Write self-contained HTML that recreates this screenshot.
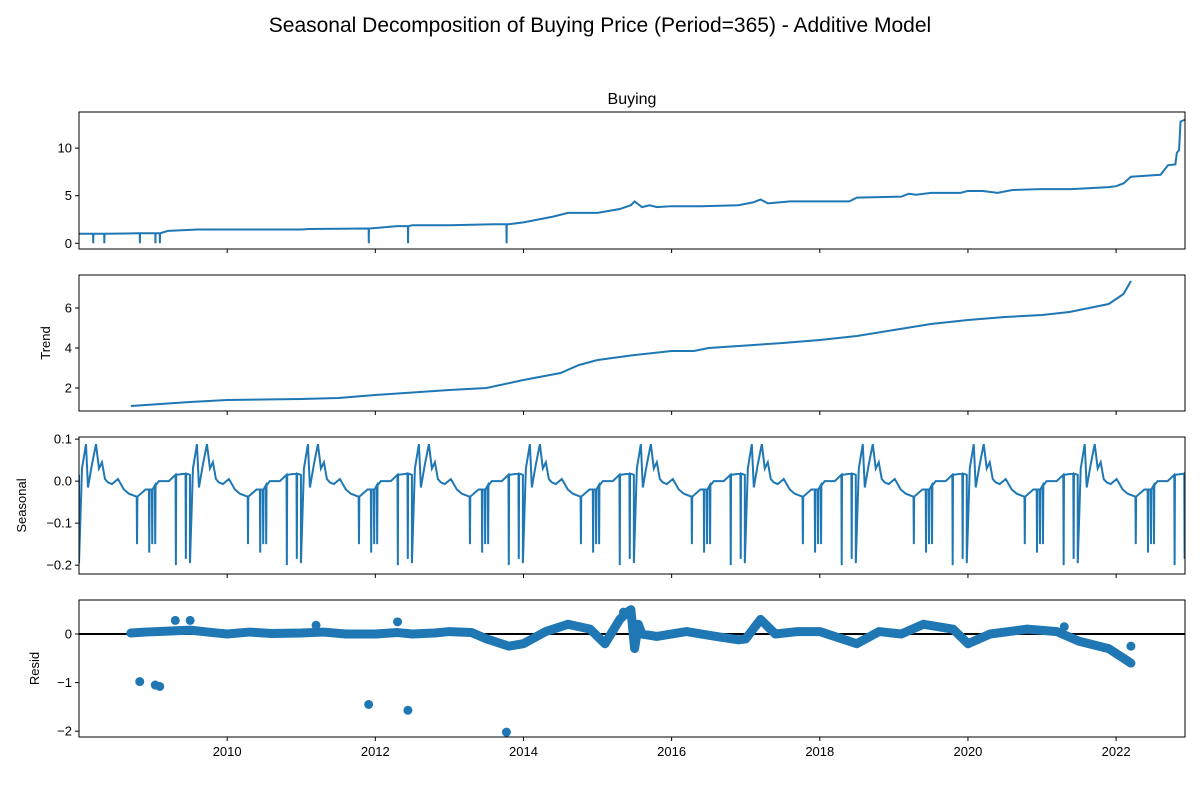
<!DOCTYPE html>
<html><head><meta charset="utf-8"><style>
body{margin:0;background:#fff;}
svg text{font-family:"Liberation Sans","DejaVu Sans",sans-serif;fill:#000;}
</style></head><body>
<svg id="c" width="1200" height="800" xmlns="http://www.w3.org/2000/svg">
<text x="600" y="32" text-anchor="middle" font-size="21">Seasonal Decomposition of Buying Price (Period=365) - Additive Model</text>
</svg>
<script>
const xTickYears=[2010,2012,2014,2016,2018,2020,2022];
const buyingYears=[2008.0,2008.8,2009.2,2009.6,2011.0,2011.1,2011.9,2012.3,2012.5,2013.0,2013.6,2013.8,2014.0,2014.4,2014.6,2015.0,2015.3,2015.45,2015.5,2015.6,2015.7,2015.8,2016.0,2016.4,2016.9,2017.1,2017.2,2017.3,2017.6,2018.4,2018.5,2019.1,2019.2,2019.3,2019.5,2019.9,2020.0,2020.2,2020.4,2020.6,2021.0,2021.4,2021.9,2022.0,2022.1,2022.2,2022.4,2022.6,2022.7,2022.8,2022.82,2022.85,2022.87,2022.93];
const buyingValues=[1.0,1.05,1.3,1.45,1.45,1.5,1.55,1.8,1.9,1.9,2.0,2.0,2.2,2.8,3.2,3.2,3.6,4.0,4.4,3.8,4.0,3.8,3.9,3.9,4.0,4.3,4.6,4.2,4.4,4.4,4.8,4.9,5.2,5.1,5.3,5.3,5.5,5.5,5.3,5.6,5.7,5.7,5.9,6.0,6.3,7.0,7.1,7.2,8.2,8.3,9.5,9.8,12.8,13.0];
const buyingDropYears=[2008.19,2008.34,2008.82,2009.03,2009.09,2011.91,2012.44,2013.77];
const trendYears=[2008.7,2009.5,2010,2011,2011.5,2012,2013,2013.5,2014,2014.5,2014.75,2015,2015.5,2016,2016.3,2016.5,2017.5,2018,2018.5,2019,2019.5,2020,2020.5,2021,2021.37,2021.9,2022.1,2022.2];
const trendValues=[1.1,1.3,1.4,1.45,1.5,1.65,1.9,2.0,2.4,2.75,3.15,3.4,3.65,3.85,3.85,4.0,4.25,4.4,4.6,4.9,5.2,5.4,5.55,5.65,5.8,6.2,6.7,7.35];
const seasonalPeriodYears=1.498;
const seasonalPhase=[0,0.0,0.027,0.063,0.081,0.117,0.153,0.18,0.207,0.234,0.261,0.297,0.351,0.405,0.45,0.52,0.523,0.526,0.6,0.63,0.633,0.636,0.657,0.66,0.663,0.684,0.687,0.69,0.72,0.81,0.87,0.873,0.876,0.96,0.963,0.966,1.0];
const seasonalValues=[0.015,-0.195,0.03,0.088,-0.015,0.04,0.088,0.03,0.045,0.005,-0.003,-0.007,0.005,-0.02,-0.03,-0.037,-0.15,-0.037,-0.02,-0.02,-0.17,-0.02,-0.02,-0.15,-0.02,-0.01,-0.15,-0.01,0.0,0.0,0.015,-0.2,0.015,0.018,-0.185,0.018,0.015];
const residYears=[2008.7,2008.9,2009.2,2009.5,2009.8,2010,2010.3,2010.6,2011,2011.3,2011.6,2012,2012.3,2012.5,2012.8,2013,2013.3,2013.5,2013.8,2014.0,2014.3,2014.6,2014.9,2015.1,2015.3,2015.4,2015.45,2015.5,2015.55,2015.6,2015.8,2016.2,2016.6,2016.9,2017.0,2017.2,2017.4,2017.7,2018.0,2018.3,2018.5,2018.8,2019.1,2019.4,2019.8,2020.0,2020.3,2020.8,2021.2,2021.5,2021.9,2022.1,2022.2];
const residValues=[0.02,0.04,0.06,0.08,0.03,0.0,0.04,0.01,0.02,0.04,0.0,0.0,0.03,0.0,0.02,0.05,0.03,-0.1,-0.25,-0.2,0.05,0.2,0.1,-0.2,0.3,0.45,0.5,-0.3,0.2,0.0,-0.05,0.05,-0.05,-0.12,-0.1,0.3,0.0,0.05,0.05,-0.1,-0.2,0.05,0.0,0.2,0.1,-0.2,0.0,0.1,0.05,-0.15,-0.3,-0.5,-0.6];
const residOutYears=[2008.82,2009.03,2009.09,2011.91,2012.44,2013.77,2009.3,2009.5,2011.2,2012.3,2015.35,2021.3,2022.2];
const residOutValues=[-0.98,-1.05,-1.08,-1.45,-1.57,-2.02,0.28,0.28,0.18,0.25,0.45,0.15,-0.25];

const NS='http://www.w3.org/2000/svg';
const svg=document.getElementById('c');
const X0=79,X1=1185,Y0=2008.0,Y1=2022.93;
const sx=y=>X0+(y-Y0)/(Y1-Y0)*(X1-X0);
const C='#1f77b4';
function mk(t,a,p){const e=document.createElementNS(NS,t);for(const k in a)e.setAttribute(k,a[k]);(p||svg).appendChild(e);return e;}
const panels=[
 {top:112,bot:249,lo:-0.6,hi:13.8,ticks:[0,5,10],lab:'',lx:0,name:'observed'},
 {top:275,bot:411,lo:0.85,hi:7.65,ticks:[2,4,6],lab:'Trend',lx:50,name:'trend'},
 {top:437,bot:574,lo:-0.221,hi:0.105,ticks:[0.1,0.0,-0.1,-0.2],lab:'Seasonal',lx:26,name:'seasonal'},
 {top:600,bot:737,lo:-2.12,hi:0.7,ticks:[0,-1,-2],lab:'Resid',lx:39,name:'resid'}];
panels.forEach((p,i)=>{
 p.sy=v=>p.bot-(v-p.lo)/(p.hi-p.lo)*(p.bot-p.top);
 const g=mk('g',{});
 
 
 const cp=mk('clipPath',{id:'cp'+i},g);mk('rect',{x:X0,y:p.top,width:X1-X0,height:p.bot-p.top},cp);
 p.g=mk('g',{'clip-path':'url(#cp'+i+')'},g);
 p.ticks.forEach(t=>{const y=p.sy(t);mk('line',{x1:X0-4,x2:X0,y1:y,y2:y,stroke:'#000'},g);
  const tx=mk('text',{x:X0-7,y:y+4.5,'text-anchor':'end','font-size':13},g);tx.textContent=(i==2?t.toFixed(1):String(t)).replace('-','\u2212');
  });
 xTickYears.forEach(t=>{mk('line',{x1:sx(t),x2:sx(t),y1:p.bot,y2:p.bot+4,stroke:'#000'},g);
  if(i==3){const tx=mk('text',{x:sx(t),y:p.bot+19,'text-anchor':'middle','font-size':13},g);tx.textContent=t;
  }});
 if(p.lab){const cy=(p.top+p.bot)/2;const tx=mk('text',{x:0,y:0,transform:`translate(${p.lx},${cy}) rotate(-90)`,'text-anchor':'middle','font-size':13},g);tx.textContent=p.lab;
  }
 p.frame=g;
});
(function(){const p=panels[0];let pts=buyingYears.map((y,i)=>[y,buyingValues[i]]);
 buyingDropYears.forEach(d=>{let k=pts.findIndex(q=>q[0]>d);const v=pts[k-1][1];pts.splice(k,0,[d,v],[d+0.002,0],[d+0.004,v]);});
 const l=mk('polyline',{points:pts.map(q=>sx(q[0])+','+p.sy(q[1])).join(' '),fill:'none',stroke:C,'stroke-width':2},p.g);
 
 const t=mk('text',{x:(X0+X1)/2,y:104,'text-anchor':'middle','font-size':16});t.textContent='Buying';
 })();
(function(){const p=panels[1];const l=mk('polyline',{points:trendYears.map((y,i)=>sx(y)+','+p.sy(trendValues[i])).join(' '),fill:'none',stroke:C,'stroke-width':2},p.g);
 })();
(function(){const p=panels[2];const pts=[];
 for(let c=0;Y0+c*seasonalPeriodYears<Y1;c++){seasonalPhase.forEach((f,i)=>{const y=Y0+(c+f)*seasonalPeriodYears;if(y<=Y1+0.05)pts.push(sx(y)+','+p.sy(seasonalValues[i]));});}
 const l=mk('polyline',{points:pts.join(' '),fill:'none',stroke:C,'stroke-width':2},p.g);
 })();
(function(){const p=panels[3];
 mk('line',{x1:X0,x2:X1,y1:p.sy(0),y2:p.sy(0),stroke:'#000','stroke-width':2},p.g);
 const l=mk('polyline',{points:residYears.map((y,i)=>sx(y)+','+p.sy(residValues[i])).join(' '),fill:'none',stroke:C,'stroke-width':9,'stroke-linejoin':'round','stroke-linecap':'round'},p.g);
 
 residOutYears.forEach((y,i)=>{const c=mk('circle',{cx:sx(y),cy:p.sy(residOutValues[i]),r:4.5,fill:C},p.g);
  });})();
panels.forEach(p=>{mk('rect',{x:X0,y:p.top,width:X1-X0,height:p.bot-p.top,fill:'none',stroke:'#000','stroke-width':1},p.frame);});
</script>
</body></html>
